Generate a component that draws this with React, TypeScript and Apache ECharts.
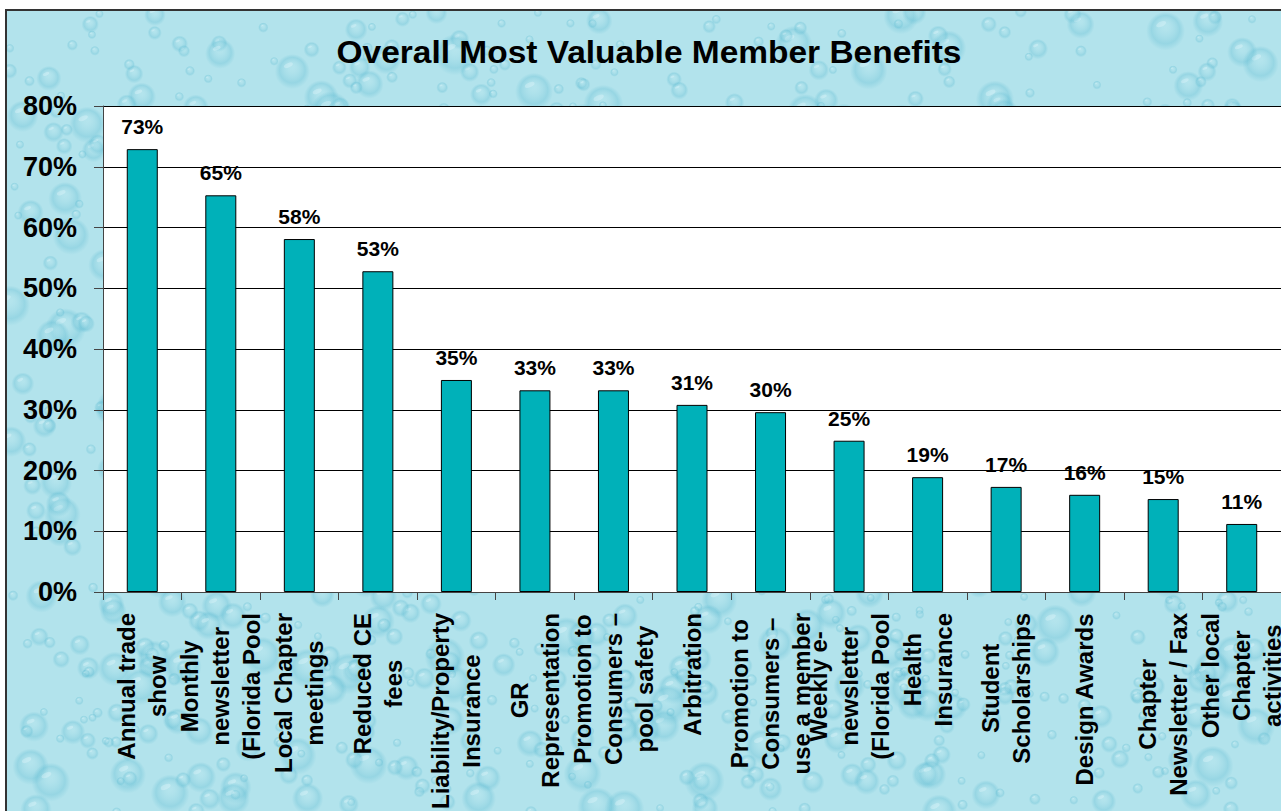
import React, { useEffect, useRef } from "react";
import * as echarts from "echarts";

const TITLE = "Overall Most Valuable Member Benefits";
const categories: string[] = [
  "Annual trade\nshow",
  "Monthly\nnewsletter\n(Florida Pool",
  "Local Chapter\nmeetings",
  "Reduced CE\nfees",
  "Liability/Property\nInsurance",
  "GR\nRepresentation",
  "Promotion to\nConsumers –\npool safety",
  "Arbitration",
  "Promotion to\nConsumers –\nuse a member",
  "Weekly e-\nnewsletter\n(Florida Pool",
  "Health\nInsurance",
  "Student\nScholarships",
  "Design Awards",
  "Chapter\nNewsletter / Fax",
  "Other local\nChapter\nactivities",
];
const values: number[] = [72.9, 65.3, 58.1, 52.8, 34.9, 33.2, 33.2, 30.8, 29.6, 24.9, 18.9, 17.3, 16.0, 15.3, 11.2];
const yMin = 0;
const yMax = 80;
const yStep = 10;

const FONT = "'Liberation Sans', Arial, Helvetica, sans-serif";

// decorative water-drop texture (deterministic hash, not data)
function makeTexture(w: number, h: number): string {
  const c = document.createElement("canvas");
  c.width = w;
  c.height = h;
  const ctx = c.getContext("2d");
  if (!ctx) return "";
  ctx.fillStyle = "#b2e3ec";
  ctx.fillRect(0, 0, w, h);
  const hash = (n: number) => {
    const s = Math.sin(n * 12.9898 + 78.233) * 43758.5453;
    return s - Math.floor(s);
  };
  const count = Math.round((w * h) / 900);
  for (let i = 0; i < count; i++) {
    const x = hash(i * 3 + 1) * w;
    const y = hash(i * 3 + 2) * h;
    const r = 4 + Math.pow(hash(i * 3 + 3), 2.5) * 15;
    const g = ctx.createRadialGradient(x, y - r * 0.3, r * 0.1, x, y, r * 1.1);
    g.addColorStop(0, "rgba(190,235,242,0.12)");
    g.addColorStop(0.7, "rgba(80,180,205,0.28)");
    g.addColorStop(1, "rgba(80,180,205,0)");
    ctx.fillStyle = g;
    ctx.fillRect(x - r * 1.2, y - r * 1.2, r * 2.4, r * 2.4);
    ctx.beginPath();
    ctx.ellipse(x - r * 0.25, y - r * 0.4, r * 0.3, r * 0.14, -0.4, 0, Math.PI * 2);
    ctx.fillStyle = "rgba(240,252,255,0.3)";
    ctx.fill();
  }
  return c.toDataURL();
}

export default function App() {
  const ref = useRef<HTMLDivElement>(null);
  const bgRef = useRef<HTMLDivElement>(null);
  useEffect(() => {
    if (bgRef.current) {
      const url = makeTexture(1276, 802);
      if (url) bgRef.current.style.backgroundImage = `url(${url})`;
    }
    if (!ref.current) return;
    const chart = echarts.init(ref.current, null, { renderer: "svg" });
    chart.setOption({
      animation: false,
      backgroundColor: "transparent",
      graphic: [
        {
          type: "text",
          x: 649,
          y: 52,
          scaleX: 1.08,
          style: {
            text: TITLE,
            align: "center",
            verticalAlign: "middle",
            font: `bold 31px ${FONT}`,
            fill: "#000",
          },
        },
      ],
      grid: {
        left: 103,
        right: 0,
        top: 106,
        bottom: 219,
        show: true,
        backgroundColor: "#ffffff",
        borderWidth: 0,
        outerBoundsMode: "none",
      },
      xAxis: {
        type: "category",
        data: categories,
        boundaryGap: true,
        axisLine: { show: true, lineStyle: { color: "#444", width: 1 } },
        axisTick: { show: true, length: 8, interval: 0, lineStyle: { color: "#444" } },
        axisLabel: {
          interval: 0,
          rotate: 90,
          margin: 21,
          color: "#000",
          formatter: (v: string) => v.split("\n").map((l) => `{c|${l}}`).join("\n"),
          rich: {
            c: {
              align: "center",
              fontFamily: FONT,
              fontWeight: "bold",
              fontSize: 24,
              lineHeight: 31,
              color: "#000",
            },
          },
        },
      },
      yAxis: {
        type: "value",
        min: yMin,
        max: yMax,
        interval: yStep,
        axisLine: { show: true, lineStyle: { color: "#444", width: 1 } },
        axisTick: { show: true, length: 9, lineStyle: { color: "#444" } },
        splitLine: { show: true, lineStyle: { color: "#000", width: 1 } },
        axisLabel: {
          formatter: "{value}%",
          margin: 26,
          color: "#000",
          fontFamily: FONT,
          fontWeight: "bold",
          fontSize: 27,
        },
      },
      series: [
        {
          type: "bar",
          data: values,
          barWidth: 31,
          itemStyle: { color: "#00b1b9", borderColor: "#000", borderWidth: 1 },
          label: {
            show: true,
            position: "top",
            distance: 12,
            formatter: (p: any) => `${Math.round(p.value)}%`,
            color: "#000",
            fontFamily: FONT,
            fontWeight: "bold",
            fontSize: 21,
          },
        },
      ],
    });
    return () => chart.dispose();
  }, []);

  return (
    <div>
      <div
        ref={bgRef}
        style={{
          position: "fixed",
          left: 5,
          top: 9,
          width: 1276,
          height: 802,
          borderLeft: "2px solid #333",
          borderTop: "2px solid #333",
          boxSizing: "border-box",
          backgroundColor: "#b0e2eb",
        }}
      />
      <div
        ref={ref}
        style={{ position: "fixed", left: 0, top: 0, width: 1281, height: 811 }}
      />
    </div>
  );
}
